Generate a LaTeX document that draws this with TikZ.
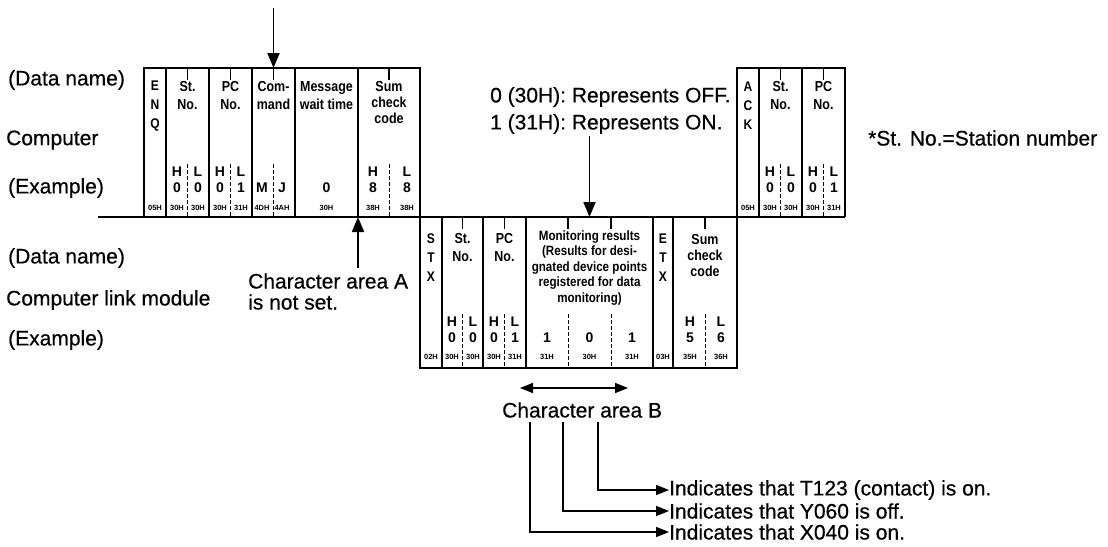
\documentclass[tikz,border=0pt]{standalone}
\usepackage{fontspec}
\setmainfont{Liberation Sans}
\newfontfamily\lblfont[FakeBold=0.5]{Liberation Sans}
\newfontfamily\innerfont[FakeStretch=0.86]{Liberation Sans}
\usetikzlibrary{arrows.meta}
\begin{document}
\begin{tikzpicture}[x=1pt,y=-1pt,
  lbl/.style={font=\lblfont\fontsize{21}{24}\selectfont, inner sep=0, anchor=west},
  fld/.style={font=\innerfont\bfseries\fontsize{14.5}{18}\selectfont, align=center, inner sep=0},
  stk/.style={font=\innerfont\bfseries\fontsize{14}{19}\selectfont, align=center, inner sep=0},
  mon/.style={font=\innerfont\bfseries\fontsize{13.5}{15.5}\selectfont, align=center, inner sep=0},
  dig/.style={font=\bfseries\fontsize{14}{15}\selectfont, inner sep=0},
  hex/.style={font=\bfseries\fontsize{7.5}{8}\selectfont, inner sep=0},
  frm/.style={line width=1.6pt},
  dsh/.style={line width=1pt, dash pattern=on 3.5pt off 2.5pt},
  tick/.style={line width=1.1pt},
  arr/.style={line width=1.8pt, -{Triangle[width=12pt,length=15pt]}},
  ann/.style={line width=1.6pt, -{Triangle[width=10pt,length=13pt]}},
  dbl/.style={line width=1.6pt, {Triangle[width=10pt,length=13pt]}-{Triangle[width=10pt,length=13pt]}}
]
\useasboundingbox (0,0) rectangle (1108,546);

% left labels
\node[lbl] (dn1) at (8,80) {(Data name)};
\node[lbl] (cmp) at (6,140) {Computer};
\node[lbl] (ex1) at (8,188) {(Example)};
\node[lbl] (dn2) at (8,258) {(Data name)};
\node[lbl] (clm) at (6,300) {Computer link module};
\node[lbl] (ex2) at (8,340) {(Example)};

% frames
\draw[frm] (144,217) -- (144,68) -- (420,68) -- (420,368) -- (737,368) -- (737,68) -- (845,68) -- (845,217);
\draw[frm] (98,217) -- (845,217);
\foreach \x in {166,209,252,295,358,759,802} \draw[frm] (\x,68) -- (\x,217);
\foreach \x in {442,483,526,653,673} \draw[frm] (\x,217) -- (\x,368);

% ticks and dashed separators
\foreach \x in {187.5,230.5,273.5,389,780.5,823.5} {
  \draw[tick] (\x,68) -- (\x,80);
  \draw[dsh] (\x,164) -- (\x,217);
}
\foreach \x in {462.5,504.5,568,611,705} {
  \draw[tick] (\x,217) -- (\x,229);
  \draw[dsh] (\x,314) -- (\x,368);
}

% top frame fields
\node[stk] (enq) at (155,106) {E\\N\\Q};
\node[fld] (st1) at (187.5,96) {St.\\No.};
\node[fld] (pc1) at (230.5,96) {PC\\No.};
\node[fld] (cmd) at (273.5,96) {Com-\\mand};
\node[fld] (msg) at (326.5,96) {Message\\wait time};
\node[fld, font=\innerfont\bfseries\fontsize{14.5}{16}\selectfont] (sum1) at (389,103) {Sum\\check\\code};

\foreach \x/\t in {177/H,198/L,220/H,241/L,373/H,407/L,770/H,791/L,813/H,834/L}
  \node[dig] at (\x,172) {\t};
\foreach \x/\t in {177/0,198/0,220/0,241/1,262/M,282/J,326.5/0,373/8,407/8,770/0,791/0,813/0,834/1}
  \node[dig] at (\x,188) {\t};
\foreach \x/\t in {155/05,177/30,198/30,220/30,241/31,262/4D,282/4A,326.5/30,373/38,407/38,748/05,770/30,791/30,813/30,834/31}
  \node[hex] at (\x,208) {\t H};

% ACK frame
\node[stk] (ack) at (748,106) {A\\C\\K};
\node[fld] (st3) at (780.5,96) {St.\\No.};
\node[fld] (pc3) at (823.5,96) {PC\\No.};

% bottom frame
\node[stk] (stx) at (431,258) {S\\T\\X};
\node[fld] (st2) at (462.5,248) {St.\\No.};
\node[fld] (pc2) at (504.5,248) {PC\\No.};
\node[mon] (monr) at (589.5,268)
  {Monitoring results\\(Results for desi-\\gnated device points\\registered for data\\monitoring)};
\node[stk] (etx) at (663,258) {E\\T\\X};
\node[fld, font=\innerfont\bfseries\fontsize{14.5}{16}\selectfont] (sum2) at (705,256) {Sum\\check\\code};

\foreach \x/\t in {452/H,473/L,494/H,515/L,690/H,721/L}
  \node[dig] at (\x,322) {\t};
\foreach \x/\t in {452/0,473/0,494/0,515/1,547/1,589.5/0,632/1,690/5,721/6}
  \node[dig] at (\x,338) {\t};
\foreach \x/\t in {431/02,452/30,473/30,494/30,515/31,547/31,589.5/30,632/31,663/03,690/35,721/36}
  \node[hex] at (\x,357) {\t H};

% annotations
\coordinate (cmdsrc) at (273.5,8);
\coordinate (cmdtop) at (273.5,68);
\draw[arr] (cmdsrc) -- (cmdtop);

\node[lbl] (caA) at (248,281) {Character area A};
\node[lbl] (nset) at (248,302) {is not set.};
\coordinate (caAsrc) at (358,268);
\coordinate (caAtip) at (358,217);
\draw[arr] (caAsrc) -- (caAtip);

\node[lbl] (off) at (490,97) {0 (30H): Represents OFF.};
\node[lbl] (on) at (490,124) {1 (31H): Represents ON.};
\coordinate (onsrc) at (589.5,136);
\coordinate (ontip) at (589.5,217);
\draw[arr] (onsrc) -- (ontip);

\node[lbl] (stn) at (868,138) {*St. No.=Station number};

\coordinate (bL) at (520,388);
\coordinate (bR) at (628,388);
\draw[dbl] (bL) -- (bR);
\node[lbl] (caB) at (502,410) {Character area B};

\node[lbl] (i1) at (669,490) {Indicates that T123 (contact) is on.};
\node[lbl] (i2) at (669,511) {Indicates that Y060 is off.};
\node[lbl] (i3) at (669,532) {Indicates that X040 is on.};
\coordinate (s1) at (598,422);
\coordinate (s2) at (563,422);
\coordinate (s3) at (530,422);
\draw[ann] (s1) |- (i1.west);
\draw[ann] (s2) |- (i2.west);
\draw[ann] (s3) |- (i3.west);
\end{tikzpicture}
\end{document}
